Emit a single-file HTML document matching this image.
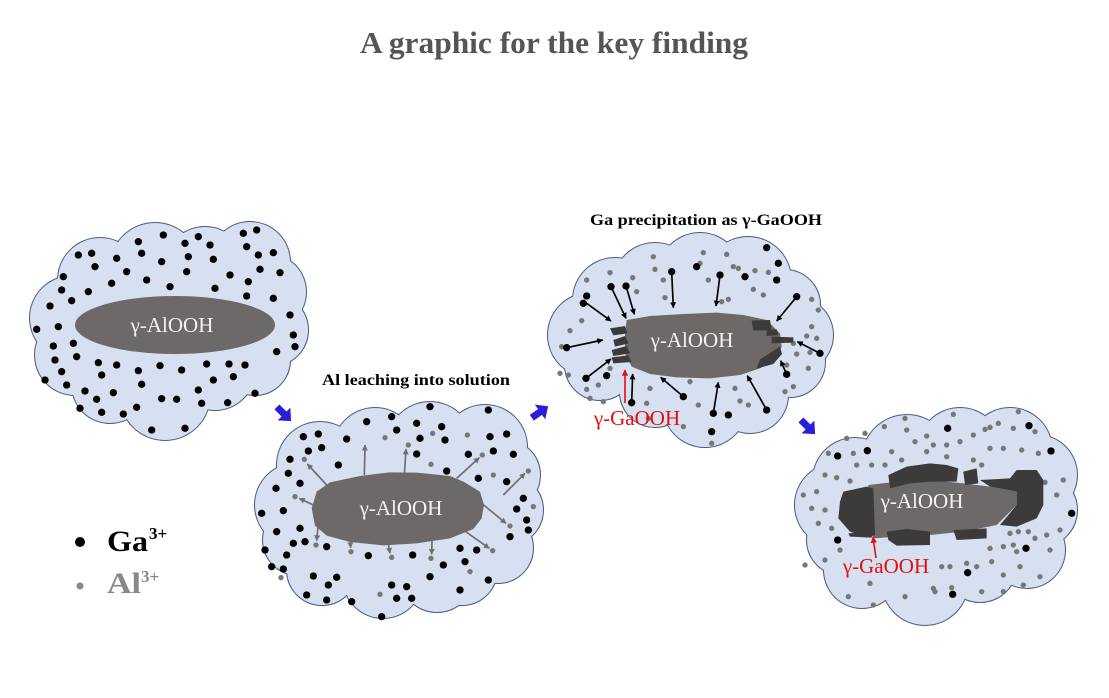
<!DOCTYPE html>
<html><head><meta charset="utf-8"><style>
html,body{margin:0;padding:0;background:#fff;}
svg{display:block;}
text{font-family:"Liberation Serif","Times New Roman",serif;}
</style></head><body>
<svg width="1109" height="698" viewBox="0 0 1109 698" xmlns="http://www.w3.org/2000/svg">
<defs>
<marker id="mb" viewBox="0 0 10 10" refX="9" refY="5" markerWidth="3.6" markerHeight="3.6" orient="auto"><path d="M0,0 L10,5 L0,10 z" fill="#000"/></marker>
<marker id="mg" viewBox="0 0 10 10" refX="9" refY="5" markerWidth="3.6" markerHeight="3.6" orient="auto"><path d="M0,0 L10,5 L0,10 z" fill="#6f6f6f"/></marker>
<marker id="mr" viewBox="0 0 10 10" refX="9" refY="5" markerWidth="4" markerHeight="4" orient="auto"><path d="M0,0 L10,5 L0,10 z" fill="#e01010"/></marker>
<g id="c1">
<ellipse cx="170" cy="325" rx="110" ry="65"/>
<circle cx="100" cy="280" r="42"/><circle cx="155" cy="268" r="45"/><circle cx="205" cy="268" r="41"/><circle cx="250" cy="262" r="40"/>
<circle cx="268" cy="292" r="38"/><circle cx="272" cy="330" r="36"/><circle cx="255" cy="360" r="35"/><circle cx="215" cy="370" r="40"/>
<circle cx="165" cy="395" r="45"/><circle cx="110" cy="385" r="38"/><circle cx="75" cy="355" r="40"/><circle cx="72" cy="318" r="42"/>
</g>
<g id="c2">
<ellipse cx="400" cy="512" rx="115" ry="70"/>
<circle cx="320" cy="465" r="43"/><circle cx="375" cy="450" r="42"/><circle cx="430" cy="445" r="43"/><circle cx="485" cy="447" r="42"/>
<circle cx="505" cy="475" r="35"/><circle cx="508" cy="510" r="35"/><circle cx="498" cy="548" r="35"/><circle cx="462" cy="570" r="35"/>
<circle cx="437" cy="575" r="37"/><circle cx="383" cy="578" r="40"/><circle cx="322" cy="570" r="35"/><circle cx="298" cy="540" r="35"/><circle cx="297" cy="505" r="42"/>
</g>
<g id="c3">
<ellipse cx="690" cy="340" rx="115" ry="65"/>
<circle cx="615" cy="300" r="42"/><circle cx="655" cy="285" r="42"/><circle cx="700" cy="275" r="42"/><circle cx="748" cy="280" r="43"/>
<circle cx="785" cy="305" r="35"/><circle cx="795" cy="335" r="38"/><circle cx="790" cy="362" r="35"/><circle cx="750" cy="395" r="38"/>
<circle cx="705" cy="405" r="42"/><circle cx="655" cy="392" r="35"/><circle cx="600" cy="365" r="35"/><circle cx="590" cy="335" r="42"/>
</g>
<g id="c4">
<ellipse cx="935" cy="515" rx="115" ry="70"/>
<circle cx="855" cy="480" r="42"/><circle cx="907" cy="460" r="45"/><circle cx="960" cy="450" r="42"/><circle cx="1010" cy="450" r="42"/>
<circle cx="1037" cy="475" r="40"/><circle cx="1040" cy="510" r="37"/><circle cx="1027" cy="550" r="38"/><circle cx="980" cy="565" r="37"/>
<circle cx="925" cy="582" r="43"/><circle cx="862" cy="570" r="38"/><circle cx="842" cy="540" r="35"/><circle cx="837" cy="505" r="42"/>
</g>
<polygon id="barrow" points="-10,-3.5 0,-3.5 0,-9 10,0 0,9 0,3.5 -10,3.5"/>
</defs>

<!-- Title -->
<text x="554" y="53" font-size="31" font-weight="bold" fill="#555" text-anchor="middle" textLength="388" lengthAdjust="spacingAndGlyphs">A graphic for the key finding</text>

<!-- Clouds -->
<use href="#c1" fill="#d6e0f0" stroke="#4b5b85" stroke-width="2"/><use href="#c1" fill="#d6e0f0" stroke="none"/>
<use href="#c2" fill="#d6e0f0" stroke="#4b5b85" stroke-width="2"/><use href="#c2" fill="#d6e0f0" stroke="none"/>
<use href="#c3" fill="#d6e0f0" stroke="#4b5b85" stroke-width="2"/><use href="#c3" fill="#d6e0f0" stroke="none"/>
<use href="#c4" fill="#d6e0f0" stroke="#4b5b85" stroke-width="2"/><use href="#c4" fill="#d6e0f0" stroke="none"/>

<!-- Cloud 1 -->
<g transform="translate(25,210) scale(0.33333)" fill="#000">
<circle cx="415" cy="75" r="11"/><circle cx="520" cy="80" r="11"/><circle cx="655" cy="70" r="11"/><circle cx="695" cy="60" r="11"/><circle cx="340" cy="95" r="11"/><circle cx="480" cy="100" r="11"/><circle cx="555" cy="105" r="11"/><circle cx="160" cy="135" r="11"/><circle cx="200" cy="130" r="11"/><circle cx="275" cy="145" r="11"/><circle cx="350" cy="130" r="11"/><circle cx="410" cy="155" r="11"/><circle cx="490" cy="140" r="11"/><circle cx="565" cy="148" r="11"/><circle cx="665" cy="110" r="11"/><circle cx="700" cy="135" r="11"/><circle cx="745" cy="128" r="11"/><circle cx="210" cy="170" r="11"/><circle cx="305" cy="185" r="11"/><circle cx="485" cy="185" r="11"/><circle cx="705" cy="178" r="11"/><circle cx="765" cy="188" r="11"/><circle cx="115" cy="200" r="11"/><circle cx="365" cy="210" r="11"/><circle cx="615" cy="195" r="11"/><circle cx="670" cy="215" r="11"/><circle cx="260" cy="220" r="11"/><circle cx="435" cy="230" r="11"/><circle cx="570" cy="235" r="11"/><circle cx="110" cy="240" r="11"/><circle cx="190" cy="245" r="11"/><circle cx="665" cy="258" r="11"/><circle cx="745" cy="265" r="11"/><circle cx="140" cy="272" r="11"/><circle cx="75" cy="288" r="11"/><circle cx="795" cy="315" r="11"/><circle cx="35" cy="358" r="11"/><circle cx="100" cy="350" r="11"/><circle cx="805" cy="375" r="11"/><circle cx="810" cy="410" r="11"/><circle cx="145" cy="400" r="11"/><circle cx="85" cy="408" r="11"/><circle cx="755" cy="425" r="11"/><circle cx="155" cy="440" r="11"/><circle cx="90" cy="450" r="11"/><circle cx="220" cy="458" r="11"/><circle cx="275" cy="465" r="11"/><circle cx="405" cy="467" r="11"/><circle cx="470" cy="480" r="11"/><circle cx="545" cy="462" r="11"/><circle cx="612" cy="462" r="11"/><circle cx="660" cy="465" r="11"/><circle cx="110" cy="485" r="11"/><circle cx="230" cy="495" r="11"/><circle cx="340" cy="482" r="11"/><circle cx="625" cy="500" r="11"/><circle cx="565" cy="510" r="11"/><circle cx="60" cy="510" r="11"/><circle cx="125" cy="525" r="11"/><circle cx="350" cy="523" r="11"/><circle cx="180" cy="543" r="11"/><circle cx="265" cy="548" r="11"/><circle cx="520" cy="540" r="11"/><circle cx="690" cy="550" r="11"/><circle cx="215" cy="568" r="11"/><circle cx="410" cy="566" r="11"/><circle cx="455" cy="568" r="11"/><circle cx="530" cy="580" r="11"/><circle cx="608" cy="578" r="11"/><circle cx="165" cy="595" r="11"/><circle cx="230" cy="607" r="11"/><circle cx="295" cy="612" r="11"/><circle cx="335" cy="592" r="11"/><circle cx="380" cy="660" r="11"/><circle cx="480" cy="655" r="11"/>
</g>
<ellipse cx="175" cy="325" rx="100" ry="29" fill="#6d6968"/>
<text x="172" y="332" font-size="21" fill="#f2f2f2" text-anchor="middle">γ-AlOOH</text>

<!-- Cloud 2 -->
<text x="416" y="385" font-size="16" font-weight="bold" fill="#000" text-anchor="middle" textLength="188" lengthAdjust="spacingAndGlyphs">Al leaching into solution</text>
<g transform="translate(250,365) scale(0.33333)">
<g fill="#000">
<circle cx="540" cy="125" r="11"/><circle cx="715" cy="135" r="11"/><circle cx="425" cy="155" r="11"/><circle cx="350" cy="170" r="11"/><circle cx="500" cy="175" r="11"/><circle cx="575" cy="185" r="11"/><circle cx="160" cy="215" r="11"/><circle cx="205" cy="207" r="11"/><circle cx="290" cy="222" r="11"/><circle cx="440" cy="195" r="11"/><circle cx="510" cy="220" r="11"/><circle cx="585" cy="225" r="11"/><circle cx="720" cy="215" r="11"/><circle cx="770" cy="207" r="11"/><circle cx="175" cy="258" r="11"/><circle cx="215" cy="248" r="11"/><circle cx="500" cy="267" r="11"/><circle cx="655" cy="268" r="11"/><circle cx="730" cy="258" r="11"/><circle cx="790" cy="268" r="11"/><circle cx="120" cy="283" r="11"/><circle cx="265" cy="300" r="11"/><circle cx="590" cy="318" r="11"/><circle cx="115" cy="325" r="11"/><circle cx="685" cy="340" r="11"/><circle cx="770" cy="350" r="11"/><circle cx="150" cy="355" r="11"/><circle cx="78" cy="370" r="11"/><circle cx="820" cy="400" r="11"/><circle cx="800" cy="432" r="11"/><circle cx="100" cy="437" r="11"/><circle cx="35" cy="445" r="11"/><circle cx="830" cy="465" r="11"/><circle cx="835" cy="495" r="11"/><circle cx="150" cy="490" r="11"/><circle cx="80" cy="500" r="11"/><circle cx="780" cy="515" r="11"/><circle cx="230" cy="545" r="11"/><circle cx="355" cy="572" r="11"/><circle cx="488" cy="570" r="11"/><circle cx="630" cy="550" r="11"/><circle cx="680" cy="555" r="11"/><circle cx="45" cy="555" r="11"/><circle cx="130" cy="535" r="11"/><circle cx="165" cy="530" r="11"/><circle cx="110" cy="570" r="11"/><circle cx="645" cy="590" r="11"/><circle cx="580" cy="600" r="11"/><circle cx="65" cy="605" r="11"/><circle cx="190" cy="633" r="11"/><circle cx="260" cy="637" r="11"/><circle cx="540" cy="635" r="11"/><circle cx="715" cy="645" r="11"/><circle cx="100" cy="612" r="11"/><circle cx="235" cy="660" r="11"/><circle cx="170" cy="690" r="11"/><circle cx="425" cy="660" r="11"/><circle cx="470" cy="665" r="11"/><circle cx="630" cy="675" r="11"/><circle cx="440" cy="700" r="11"/><circle cx="485" cy="700" r="11"/><circle cx="305" cy="710" r="11"/><circle cx="395" cy="755" r="11"/><circle cx="230" cy="705" r="11"/>
</g>
<g fill="#777">
<circle cx="405" cy="218" r="8"/><circle cx="548" cy="205" r="8"/><circle cx="652" cy="210" r="8"/><circle cx="475" cy="240" r="8"/><circle cx="163" cy="283" r="8"/><circle cx="543" cy="298" r="8"/><circle cx="697" cy="270" r="8"/><circle cx="730" cy="330" r="8"/><circle cx="835" cy="318" r="8"/><circle cx="135" cy="395" r="8"/><circle cx="850" cy="425" r="8"/><circle cx="780" cy="483" r="8"/><circle cx="198" cy="540" r="8"/><circle cx="303" cy="560" r="8"/><circle cx="425" cy="577" r="8"/><circle cx="543" cy="580" r="8"/><circle cx="728" cy="557" r="8"/><circle cx="660" cy="620" r="8"/><circle cx="93" cy="638" r="8"/><circle cx="390" cy="688" r="8"/>
</g>
<g stroke="#6f6f6f" stroke-width="5" fill="none" marker-end="url(#mg)">
<line x1="230" y1="360" x2="172" y2="297"/>
<line x1="190" y1="420" x2="148" y2="400"/>
<line x1="343" y1="330" x2="345" y2="240"/>
<line x1="463" y1="330" x2="468" y2="252"/>
<line x1="620" y1="340" x2="688" y2="278"/>
<line x1="760" y1="390" x2="825" y2="325"/>
<line x1="695" y1="415" x2="768" y2="475"/>
<line x1="640" y1="495" x2="718" y2="550"/>
<line x1="205" y1="475" x2="200" y2="527"/>
<line x1="298" y1="480" x2="302" y2="548"/>
<line x1="405" y1="480" x2="420" y2="565"/>
<line x1="547" y1="490" x2="545" y2="568"/>
</g>
<path d="M200 380 L240 352 L330 333 L420 322 L500 323 L600 333 L640 350 L690 380 L702 420 L695 460 L670 492 L600 520 L500 535 L400 541 L300 531 L230 512 L195 482 L185 430 Z" fill="#6d6968"/>
</g>
<text x="401" y="515" font-size="21" fill="#f2f2f2" text-anchor="middle">γ-AlOOH</text>

<!-- Cloud 3 -->
<text x="706" y="225" font-size="16" font-weight="bold" fill="#000" text-anchor="middle" textLength="232" lengthAdjust="spacingAndGlyphs">Ga precipitation as γ-GaOOH</text>
<g transform="translate(540,200) scale(0.33333)">
<g fill="#777">
<circle cx="340" cy="170" r="8"/><circle cx="490" cy="158" r="8"/><circle cx="560" cy="163" r="8"/><circle cx="480" cy="190" r="8"/><circle cx="580" cy="200" r="8"/><circle cx="595" cy="205" r="8"/><circle cx="210" cy="218" r="8"/><circle cx="345" cy="208" r="8"/><circle cx="645" cy="212" r="8"/><circle cx="685" cy="217" r="8"/><circle cx="278" cy="233" r="8"/><circle cx="505" cy="240" r="8"/><circle cx="140" cy="240" r="8"/><circle cx="370" cy="240" r="8"/><circle cx="290" cy="275" r="8"/><circle cx="375" cy="293" r="8"/><circle cx="565" cy="298" r="8"/><circle cx="545" cy="305" r="8"/><circle cx="640" cy="268" r="8"/><circle cx="815" cy="298" r="8"/><circle cx="835" cy="330" r="8"/><circle cx="670" cy="285" r="8"/><circle cx="125" cy="362" r="8"/><circle cx="90" cy="392" r="8"/><circle cx="815" cy="380" r="8"/><circle cx="800" cy="408" r="8"/><circle cx="830" cy="415" r="8"/><circle cx="760" cy="430" r="8"/><circle cx="770" cy="462" r="8"/><circle cx="810" cy="457" r="8"/><circle cx="65" cy="440" r="8"/><circle cx="210" cy="505" r="8"/><circle cx="60" cy="520" r="8"/><circle cx="85" cy="525" r="8"/><circle cx="175" cy="555" r="8"/><circle cx="140" cy="568" r="8"/><circle cx="585" cy="565" r="8"/><circle cx="600" cy="603" r="8"/><circle cx="625" cy="615" r="8"/><circle cx="735" cy="575" r="8"/><circle cx="760" cy="560" r="8"/><circle cx="805" cy="505" r="8"/><circle cx="740" cy="495" r="8"/><circle cx="150" cy="595" r="8"/><circle cx="190" cy="605" r="8"/><circle cx="330" cy="565" r="8"/><circle cx="450" cy="545" r="8"/><circle cx="325" cy="655" r="8"/><circle cx="430" cy="680" r="8"/><circle cx="515" cy="730" r="8"/><circle cx="320" cy="610" r="8"/><circle cx="475" cy="615" r="8"/>
</g>
<g fill="#000">
<circle cx="680" cy="143" r="11"/><circle cx="470" cy="200" r="11"/><circle cx="715" cy="190" r="11"/><circle cx="395" cy="215" r="11"/><circle cx="540" cy="225" r="11"/><circle cx="615" cy="230" r="11"/><circle cx="710" cy="240" r="11"/><circle cx="213" cy="260" r="11"/><circle cx="258" cy="258" r="11"/><circle cx="140" cy="288" r="11"/><circle cx="130" cy="310" r="11"/><circle cx="770" cy="290" r="11"/><circle cx="840" cy="460" r="11"/><circle cx="80" cy="443" r="11"/><circle cx="138" cy="535" r="11"/><circle cx="200" cy="527" r="11"/><circle cx="275" cy="608" r="11"/><circle cx="430" cy="590" r="11"/><circle cx="520" cy="640" r="11"/><circle cx="565" cy="645" r="11"/><circle cx="680" cy="630" r="11"/><circle cx="740" cy="523" r="11"/><circle cx="515" cy="695" r="11"/>
</g>
</g>
<g transform="translate(600,300) scale(0.33333)">
<path d="M80 60 L150 48 L250 42 L350 38 L430 45 L500 60 L540 100 L545 140 L530 175 L480 205 L420 225 L330 235 L230 232 L150 222 L95 200 L75 160 L75 100 Z" fill="#6d6968"/>
<g fill="#3c3a3a">
<path d="M30 85 L75 78 L82 100 L40 106 Z"/>
<path d="M40 120 L75 108 L86 130 L45 140 Z"/>
<path d="M35 150 L80 138 L90 160 L40 168 Z"/>
<path d="M35 172 L85 166 L95 186 L40 190 Z"/>
<path d="M455 62 L510 60 L515 90 L460 92 Z"/>
<path d="M500 90 L530 88 L535 105 L500 108 Z"/>
<path d="M515 110 L580 112 L580 128 L515 130 Z"/>
<path d="M480 178 L540 140 L546 162 L520 192 L470 206 Z"/>
</g>
</g>
<text x="692" y="347" font-size="21" fill="#f2f2f2" text-anchor="middle">γ-AlOOH</text>
<g transform="translate(540,200) scale(0.33333)" stroke="#000" stroke-width="5" marker-end="url(#mb)">
<line x1="213" y1="260" x2="258" y2="355"/>
<line x1="258" y1="258" x2="283" y2="343"/>
<line x1="140" y1="310" x2="213" y2="363"/>
<line x1="395" y1="215" x2="400" y2="323"/>
<line x1="540" y1="225" x2="528" y2="318"/>
<line x1="770" y1="290" x2="710" y2="363"/>
<line x1="80" y1="443" x2="188" y2="420"/>
<line x1="840" y1="460" x2="772" y2="425"/>
<line x1="138" y1="535" x2="213" y2="477"/>
<line x1="275" y1="608" x2="278" y2="522"/>
<line x1="430" y1="590" x2="362" y2="532"/>
<line x1="520" y1="640" x2="535" y2="547"/>
<line x1="680" y1="630" x2="622" y2="527"/>
<line x1="740" y1="523" x2="722" y2="482"/>
</g>
<line x1="625" y1="403" x2="625" y2="370" stroke="#e01010" stroke-width="1.6" marker-end="url(#mr)"/>
<text x="637" y="425" font-size="21" fill="#e01010" text-anchor="middle">γ-GaOOH</text>

<!-- Cloud 4 -->
<g transform="translate(790,395) scale(0.33333)">
<g fill="#777">
<circle cx="345" cy="70" r="8"/><circle cx="490" cy="58" r="8"/><circle cx="685" cy="50" r="8"/><circle cx="283" cy="95" r="8"/><circle cx="350" cy="105" r="8"/><circle cx="410" cy="123" r="8"/><circle cx="550" cy="120" r="8"/><circle cx="585" cy="103" r="8"/><circle cx="600" cy="97" r="8"/><circle cx="625" cy="85" r="8"/><circle cx="670" cy="100" r="8"/><circle cx="735" cy="110" r="8"/><circle cx="170" cy="130" r="8"/><circle cx="225" cy="115" r="8"/><circle cx="115" cy="175" r="8"/><circle cx="190" cy="175" r="8"/><circle cx="305" cy="170" r="8"/><circle cx="375" cy="140" r="8"/><circle cx="430" cy="150" r="8"/><circle cx="470" cy="150" r="8"/><circle cx="510" cy="140" r="8"/><circle cx="410" cy="170" r="8"/><circle cx="470" cy="185" r="8"/><circle cx="550" cy="195" r="8"/><circle cx="575" cy="210" r="8"/><circle cx="600" cy="160" r="8"/><circle cx="640" cy="160" r="8"/><circle cx="695" cy="165" r="8"/><circle cx="745" cy="175" r="8"/><circle cx="200" cy="210" r="8"/><circle cx="245" cy="210" r="8"/><circle cx="285" cy="210" r="8"/><circle cx="335" cy="195" r="8"/><circle cx="105" cy="240" r="8"/><circle cx="140" cy="248" r="8"/><circle cx="180" cy="258" r="8"/><circle cx="80" cy="290" r="8"/><circle cx="40" cy="300" r="8"/><circle cx="765" cy="262" r="8"/><circle cx="820" cy="255" r="8"/><circle cx="800" cy="300" r="8"/><circle cx="105" cy="345" r="8"/><circle cx="65" cy="340" r="8"/><circle cx="125" cy="400" r="8"/><circle cx="85" cy="385" r="8"/><circle cx="690" cy="375" r="8"/><circle cx="660" cy="415" r="8"/><circle cx="685" cy="410" r="8"/><circle cx="715" cy="410" r="8"/><circle cx="770" cy="420" r="8"/><circle cx="735" cy="430" r="8"/><circle cx="810" cy="405" r="8"/><circle cx="600" cy="460" r="8"/><circle cx="640" cy="455" r="8"/><circle cx="670" cy="450" r="8"/><circle cx="680" cy="470" r="8"/><circle cx="780" cy="465" r="8"/><circle cx="150" cy="465" r="8"/><circle cx="105" cy="495" r="8"/><circle cx="45" cy="510" r="8"/><circle cx="240" cy="565" r="8"/><circle cx="455" cy="515" r="8"/><circle cx="480" cy="515" r="8"/><circle cx="530" cy="505" r="8"/><circle cx="560" cy="515" r="8"/><circle cx="605" cy="500" r="8"/><circle cx="690" cy="515" r="8"/><circle cx="640" cy="540" r="8"/><circle cx="700" cy="570" r="8"/><circle cx="750" cy="545" r="8"/><circle cx="175" cy="605" r="8"/><circle cx="250" cy="630" r="8"/><circle cx="345" cy="605" r="8"/><circle cx="430" cy="580" r="8"/><circle cx="435" cy="590" r="8"/><circle cx="485" cy="578" r="8"/><circle cx="575" cy="590" r="8"/><circle cx="640" cy="590" r="8"/>
</g>
<g fill="#000">
<circle cx="473" cy="100" r="11"/><circle cx="717" cy="92" r="11"/><circle cx="232" cy="167" r="11"/><circle cx="143" cy="183" r="11"/><circle cx="783" cy="168" r="11"/><circle cx="845" cy="355" r="11"/><circle cx="143" cy="435" r="11"/><circle cx="708" cy="460" r="11"/><circle cx="533" cy="533" r="11"/><circle cx="488" cy="598" r="11"/>
</g>
</g>
<g transform="translate(830,455) scale(0.33333)">
<path d="M115 90 L200 80 L300 75 L400 85 L480 95 L560 110 L560 150 L500 210 L400 230 L300 240 L200 245 L130 250 L115 200 Z" fill="#6d6968"/>
<g fill="#3c3a3a">
<path d="M40 110 L110 95 L130 100 L135 240 L110 248 L60 230 L25 190 L30 140 Z"/>
<path d="M175 60 L230 35 L300 25 L350 30 L385 40 L380 80 L300 80 L240 85 L180 100 Z"/>
<path d="M400 50 L440 40 L445 85 L405 90 Z"/>
<path d="M450 75 L540 70 L560 45 L620 45 L640 75 L640 150 L620 190 L560 215 L510 210 L560 150 L560 110 L480 95 Z"/>
<path d="M170 230 L230 222 L300 230 L300 270 L200 272 L175 255 Z"/>
<path d="M370 225 L470 220 L470 250 L380 255 Z"/>
<path d="M55 235 L130 230 L125 248 L60 245 Z"/>
</g>
</g>
<text x="922" y="508" font-size="21" fill="#f2f2f2" text-anchor="middle">γ-AlOOH</text>
<line x1="876" y1="558" x2="873" y2="537" stroke="#e01010" stroke-width="1.6" marker-end="url(#mr)"/>
<text x="886" y="573" font-size="21" fill="#e01010" text-anchor="middle">γ-GaOOH</text>

<!-- Blue arrows -->
<use href="#barrow" fill="#2a1fd8" transform="translate(284,414) rotate(45)"/>
<use href="#barrow" fill="#2a1fd8" transform="translate(540,412) rotate(-35)"/>
<use href="#barrow" fill="#2a1fd8" transform="translate(808,427) rotate(45)"/>

<!-- Legend -->
<circle cx="80" cy="542" r="5" fill="#000"/>
<text x="107" y="551" font-size="30" font-weight="bold" fill="#000" textLength="41" lengthAdjust="spacingAndGlyphs">Ga</text>
<text x="149" y="539" font-size="17" font-weight="bold" fill="#000">3+</text>
<circle cx="80" cy="586" r="3.5" fill="#888"/>
<text x="107" y="593" font-size="30" font-weight="bold" fill="#888" textLength="34" lengthAdjust="spacingAndGlyphs">Al</text>
<text x="141" y="582" font-size="17" font-weight="bold" fill="#888">3+</text>
</svg>
</body></html>
